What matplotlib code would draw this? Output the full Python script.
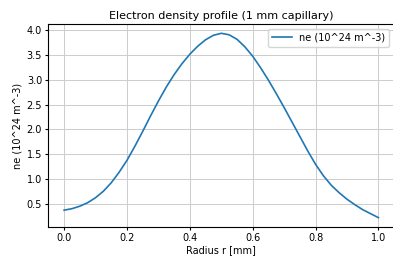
import matplotlib
matplotlib.use("Agg")
import matplotlib.pyplot as plt

# radius in mm and electron density (10^24 m^-3)
radius = [0.000, 0.025, 0.050, 0.075, 0.100, 0.125, 0.150, 0.175, 0.200, 0.225,
          0.250, 0.275, 0.300, 0.325, 0.350, 0.375, 0.400, 0.425, 0.450, 0.475,
          0.500, 0.525, 0.550, 0.575, 0.600, 0.625, 0.650, 0.675, 0.700, 0.725,
          0.750, 0.775, 0.800, 0.825, 0.850, 0.875, 0.900, 0.925, 0.950, 0.975,
          1.000]
density = [0.38, 0.41, 0.46, 0.53, 0.63, 0.76, 0.93, 1.14, 1.38, 1.66,
           1.96, 2.27, 2.57, 2.85, 3.10, 3.32, 3.51, 3.67, 3.80, 3.89,
           3.93, 3.90, 3.81, 3.66, 3.47, 3.24, 2.99, 2.72, 2.44, 2.15,
           1.86, 1.57, 1.30, 1.07, 0.88, 0.73, 0.60, 0.49, 0.39, 0.31,
           0.23]

plt.rcParams['font.size'] = 7

fig = plt.figure(figsize=(3.93, 2.59), dpi=100)
ax = fig.add_axes([0.123, 0.124, 0.88, 0.783])
ax.plot(radius, density, color='#1f77b4', linewidth=1.2, label='ne (10^24 m^-3)')
ax.set_title('Electron density profile (1 mm capillary)', fontsize=8, pad=4)
ax.set_xlabel('Radius r [mm]', labelpad=1.5)
ax.set_ylabel('ne (10^24 m^-3)', labelpad=3)
ax.tick_params(length=2.5, pad=2)
ax.grid(True, color='#cccccc', linewidth=0.7)
ax.legend(loc='upper right')

fig.savefig('out.png', dpi=100)
